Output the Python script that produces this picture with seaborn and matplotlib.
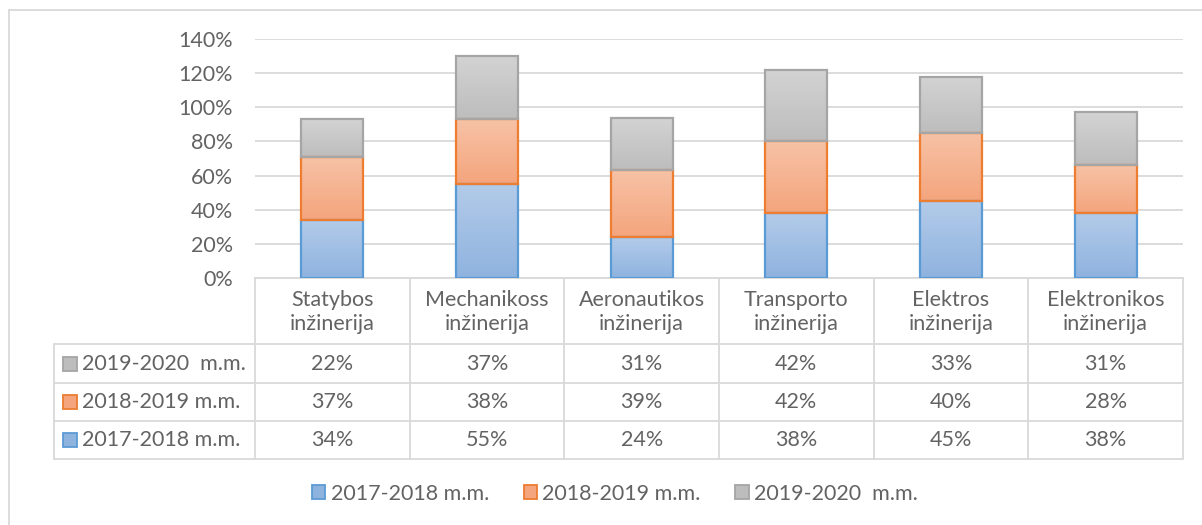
import matplotlib
matplotlib.use("Agg")
import matplotlib.pyplot as plt
from matplotlib.patches import Rectangle, Patch
import seaborn as sns
import numpy as np
import pandas as pd

# Data
categories = ["Statybos\ninžinerija", "Mechanikoss\ninžinerija", "Aeronautikos\ninžinerija",
              "Transporto\ninžinerija", "Elektros\ninžinerija", "Elektronikos\ninžinerija"]
series = ["2017-2018 m.m.", "2018-2019 m.m.", "2019-2020  m.m."]
v_2017 = [34, 55, 24, 38, 45, 38]
v_2018 = [37, 38, 39, 42, 40, 28]
v_2019 = [22, 37, 31, 42, 33, 31]
values = [v_2017, v_2018, v_2019]
y_ticks = [0, 20, 40, 60, 80, 100, 120, 140]

# Style: Excel-like colours (fill top, fill bottom, edge)
colors = [("#b3cbe9", "#8fb3df", "#5b9bd5"),
          ("#f7c2a6", "#f4a57d", "#ed7d31"),
          ("#d3d3d3", "#bdbdbd", "#a5a5a5")]
TXT = "#636363"
GRID = "#d9d9d9"
FS = 15.5

sns.set_theme(style="white")
plt.rcParams['font.family'] = ['Lato', 'DejaVu Sans']

W, H = 1202, 525
fig = plt.figure(figsize=(W / 100, H / 100), dpi=100)

# plot area in pixel coordinates
PL, PR, PT, PB = 255, 1183, 39, 278
ax = fig.add_axes([PL / W, 1 - PB / H, (PR - PL) / W, (PB - PT) / H])


def add_gradient(ax, patches, top, bottom):
    c_top = np.array(matplotlib.colors.to_rgb(top))
    c_bot = np.array(matplotlib.colors.to_rgb(bottom))
    t = np.linspace(0, 1, 64)[:, None]
    grad = (c_top * (1 - t) + c_bot * t)[:, None, :]
    for p in patches:
        x, y, w, h = p.get_x(), p.get_y(), p.get_width(), p.get_height()
        im = ax.imshow(grad, extent=[x, x + w, y, y + h], origin="upper",
                       aspect="auto", zorder=0.9, interpolation="bilinear")
        im.set_clip_path(p)
        p.set_facecolor("none")


bottom = np.zeros(len(categories))
for name, vals, (ctop, cbot, cedge) in zip(series, values, colors):
    df = pd.DataFrame({"cat": categories, "val": np.array(vals) / 100})
    n0 = len(ax.patches)
    sns.barplot(data=df, x="cat", y="val", ax=ax, width=0.4, saturation=1,
                color=cbot, edgecolor=cedge, linewidth=1.6, bottom=bottom)
    add_gradient(ax, ax.patches[n0:], ctop, cbot)
    bottom = bottom + np.array(vals) / 100

ax.set_xlim(-0.5, len(categories) - 0.5)
ax.set_ylim(0, 1.4)
ax.set_yticks(np.array(y_ticks) / 100)
ax.set_yticklabels([f"{t}%" for t in y_ticks], color=TXT, fontsize=FS)
ax.tick_params(axis="y", length=0, pad=16)
ax.set_xticks([])
ax.set_xlabel("")
ax.set_ylabel("")
ax.yaxis.grid(True, color=GRID, linewidth=1.3)
ax.set_axisbelow(True)
for s in ax.spines.values():
    s.set_visible(False)
ax.patch.set_alpha(0)

# data table drawn in pixel coordinates on an overlay axes
tab = fig.add_axes([0, 0, 1, 1], zorder=-1)
tab.set_xlim(0, W)
tab.set_ylim(H, 0)
tab.axis("off")

LBL_L = 54
rows_y = [278, 344, 383, 421, 459]
ncol = len(categories)
col_x = [PL + i * (PR - PL) / ncol for i in range(ncol + 1)]
lk = dict(color=GRID, linewidth=1.3)

# frame of the chart
tab.plot([9, W], [10, 10], **lk)
tab.plot([9, 9], [10, H], **lk)

tab.plot([PL, PR], [rows_y[0], rows_y[0]], **lk)
for y in rows_y[1:]:
    tab.plot([LBL_L, PR], [y, y], **lk)
for x in col_x:
    tab.plot([x, x], [rows_y[0], rows_y[-1]], **lk)
tab.plot([LBL_L, LBL_L], [rows_y[1], rows_y[-1]], **lk)

for i, cat in enumerate(categories):
    cx = (col_x[i] + col_x[i + 1]) / 2
    tab.text(cx, (rows_y[0] + rows_y[1]) / 2 + 1, cat, ha="center", va="center",
             color=TXT, fontsize=FS, linespacing=1.3)

# table rows: newest series on top
for r, k in enumerate([2, 1, 0]):
    yc = (rows_y[r + 1] + rows_y[r + 2]) / 2
    ctop, cbot, cedge = colors[k]
    tab.add_patch(Rectangle((63, yc - 7), 14, 14, facecolor=cbot,
                            edgecolor=cedge, linewidth=1.3))
    tab.text(82, yc, series[k], ha="left", va="center", color=TXT, fontsize=FS)
    for i, v in enumerate(values[k]):
        cx = (col_x[i] + col_x[i + 1]) / 2
        tab.text(cx, yc, f"{v}%", ha="center", va="center", color=TXT, fontsize=FS)

# legend
handles = [Patch(facecolor=c[1], edgecolor=c[2], linewidth=1.3) for c in colors]
fig.legend(handles, series, loc="center", bbox_to_anchor=(615 / W, 1 - 494 / H),
           ncol=3, frameon=False, fontsize=FS, labelcolor=TXT,
           handlelength=0.62, handleheight=0.62, handletextpad=0.25,
           columnspacing=1.6, borderaxespad=0)

fig.savefig("out.png", dpi=100)
